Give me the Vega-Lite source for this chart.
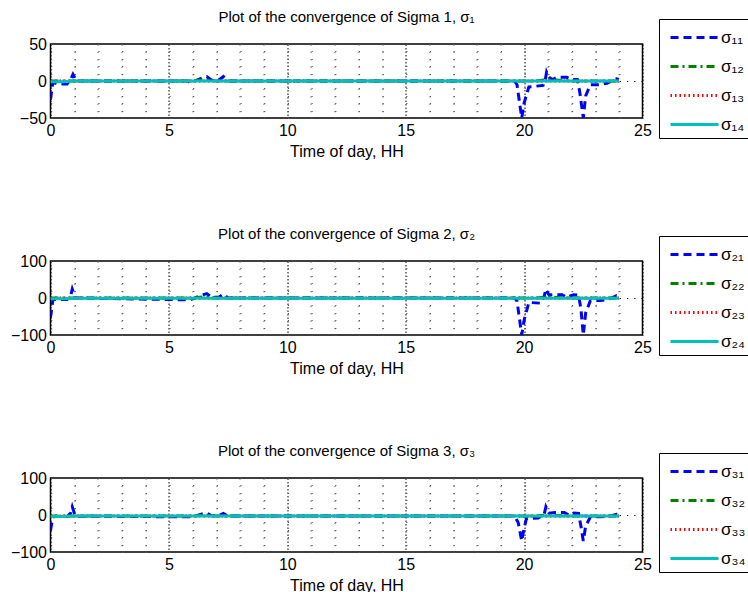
{
  "$schema": "https://vega.github.io/schema/vega-lite/v6.json",
  "padding": {"left": 9.5, "top": 8, "right": 0, "bottom": 0},
  "spacing": 65,
  "datasets": {
    "s1": [
      {"s":"σ₁₁","t":0,"v":-25},{"s":"σ₁₁","t":0.1,"v":-2},{"s":"σ₁₁","t":0.3,"v":-4},{"s":"σ₁₁","t":0.7,"v":-4},{"s":"σ₁₁","t":0.85,"v":2},{"s":"σ₁₁","t":0.95,"v":9},{"s":"σ₁₁","t":1.1,"v":0},{"s":"σ₁₁","t":5.8,"v":0},{"s":"σ₁₁","t":5.9,"v":-2},{"s":"σ₁₁","t":6.1,"v":0},{"s":"σ₁₁","t":6.4,"v":4},{"s":"σ₁₁","t":6.6,"v":6},{"s":"σ₁₁","t":6.8,"v":1},{"s":"σ₁₁","t":7.1,"v":1},{"s":"σ₁₁","t":7.3,"v":6},{"s":"σ₁₁","t":7.5,"v":0},{"s":"σ₁₁","t":19.6,"v":0},{"s":"σ₁₁","t":19.7,"v":-5},{"s":"σ₁₁","t":19.9,"v":-50},{"s":"σ₁₁","t":20.0,"v":-30},{"s":"σ₁₁","t":20.2,"v":-8},{"s":"σ₁₁","t":20.8,"v":-6},{"s":"σ₁₁","t":20.9,"v":3},{"s":"σ₁₁","t":20.95,"v":12},{"s":"σ₁₁","t":21.05,"v":5},{"s":"σ₁₁","t":21.2,"v":2},{"s":"σ₁₁","t":21.4,"v":5},{"s":"σ₁₁","t":21.8,"v":5},{"s":"σ₁₁","t":22.0,"v":2},{"s":"σ₁₁","t":22.25,"v":2},{"s":"σ₁₁","t":22.35,"v":-15},{"s":"σ₁₁","t":22.5,"v":-50},{"s":"σ₁₁","t":22.6,"v":-20},{"s":"σ₁₁","t":22.8,"v":-5},{"s":"σ₁₁","t":23.2,"v":-5},{"s":"σ₁₁","t":23.5,"v":-3},{"s":"σ₁₁","t":23.7,"v":0},{"s":"σ₁₁","t":23.9,"v":3},{"s":"σ₁₁","t":24,"v":2},
      {"s":"σ₁₂","t":0,"v":0},{"s":"σ₁₂","t":6,"v":0},{"s":"σ₁₂","t":6.5,"v":2},{"s":"σ₁₂","t":7,"v":0},{"s":"σ₁₂","t":20.5,"v":0},{"s":"σ₁₂","t":21,"v":2},{"s":"σ₁₂","t":21.5,"v":1},{"s":"σ₁₂","t":22,"v":0},{"s":"σ₁₂","t":24,"v":0},
      {"s":"σ₁₃","t":0,"v":0},{"s":"σ₁₃","t":24,"v":0},
      {"s":"σ₁₄","t":0,"v":-1},{"s":"σ₁₄","t":0.5,"v":-1},{"s":"σ₁₄","t":1,"v":0},{"s":"σ₁₄","t":24,"v":0}
    ],
    "s2": [
      {"s":"σ₂₁","t":0,"v":-53},{"s":"σ₂₁","t":0.1,"v":-5},{"s":"σ₂₁","t":0.3,"v":-4},{"s":"σ₂₁","t":0.7,"v":-4},{"s":"σ₂₁","t":0.85,"v":5},{"s":"σ₂₁","t":0.92,"v":24},{"s":"σ₂₁","t":1.05,"v":0},{"s":"σ₂₁","t":5.9,"v":-5},{"s":"σ₂₁","t":6.1,"v":0},{"s":"σ₂₁","t":6.4,"v":8},{"s":"σ₂₁","t":6.6,"v":12},{"s":"σ₂₁","t":6.8,"v":2},{"s":"σ₂₁","t":7.1,"v":2},{"s":"σ₂₁","t":7.3,"v":10},{"s":"σ₂₁","t":7.5,"v":0},{"s":"σ₂₁","t":19.6,"v":0},{"s":"σ₂₁","t":19.7,"v":-8},{"s":"σ₂₁","t":19.9,"v":-100},{"s":"σ₂₁","t":20.0,"v":-60},{"s":"σ₂₁","t":20.2,"v":-12},{"s":"σ₂₁","t":20.7,"v":-14},{"s":"σ₂₁","t":20.85,"v":5},{"s":"σ₂₁","t":20.92,"v":24},{"s":"σ₂₁","t":21.05,"v":8},{"s":"σ₂₁","t":21.3,"v":9},{"s":"σ₂₁","t":21.6,"v":9},{"s":"σ₂₁","t":21.8,"v":2},{"s":"σ₂₁","t":22.1,"v":9},{"s":"σ₂₁","t":22.3,"v":8},{"s":"σ₂₁","t":22.4,"v":-30},{"s":"σ₂₁","t":22.5,"v":-100},{"s":"σ₂₁","t":22.6,"v":-40},{"s":"σ₂₁","t":22.8,"v":-7},{"s":"σ₂₁","t":23.2,"v":-7},{"s":"σ₂₁","t":23.5,"v":-4},{"s":"σ₂₁","t":23.7,"v":0},{"s":"σ₂₁","t":23.9,"v":6},{"s":"σ₂₁","t":24,"v":3},
      {"s":"σ₂₂","t":0,"v":0},{"s":"σ₂₂","t":6,"v":0},{"s":"σ₂₂","t":6.5,"v":3},{"s":"σ₂₂","t":7,"v":0},{"s":"σ₂₂","t":20.5,"v":0},{"s":"σ₂₂","t":21,"v":3},{"s":"σ₂₂","t":21.5,"v":1},{"s":"σ₂₂","t":22,"v":0},{"s":"σ₂₂","t":24,"v":0},
      {"s":"σ₂₃","t":0,"v":0},{"s":"σ₂₃","t":24,"v":0},
      {"s":"σ₂₄","t":0,"v":-2},{"s":"σ₂₄","t":0.5,"v":-2},{"s":"σ₂₄","t":1,"v":-1},{"s":"σ₂₄","t":24,"v":-1}
    ],
    "s3": [
      {"s":"σ₃₁","t":0,"v":-42},{"s":"σ₃₁","t":0.1,"v":-5},{"s":"σ₃₁","t":0.3,"v":-4},{"s":"σ₃₁","t":0.7,"v":-4},{"s":"σ₃₁","t":0.85,"v":5},{"s":"σ₃₁","t":0.92,"v":22},{"s":"σ₃₁","t":1.05,"v":-3},{"s":"σ₃₁","t":5.9,"v":-5},{"s":"σ₃₁","t":6.1,"v":-3},{"s":"σ₃₁","t":6.4,"v":3},{"s":"σ₃₁","t":6.6,"v":5},{"s":"σ₃₁","t":6.8,"v":-2},{"s":"σ₃₁","t":7.1,"v":-2},{"s":"σ₃₁","t":7.3,"v":4},{"s":"σ₃₁","t":7.5,"v":-3},{"s":"σ₃₁","t":19.6,"v":-3},{"s":"σ₃₁","t":19.75,"v":-20},{"s":"σ₃₁","t":19.9,"v":-70},{"s":"σ₃₁","t":20.0,"v":-35},{"s":"σ₃₁","t":20.1,"v":-10},{"s":"σ₃₁","t":20.6,"v":-8},{"s":"σ₃₁","t":20.85,"v":2},{"s":"σ₃₁","t":20.92,"v":22},{"s":"σ₃₁","t":21.05,"v":5},{"s":"σ₃₁","t":21.3,"v":7},{"s":"σ₃₁","t":21.7,"v":7},{"s":"σ₃₁","t":21.9,"v":-1},{"s":"σ₃₁","t":22.1,"v":5},{"s":"σ₃₁","t":22.3,"v":4},{"s":"σ₃₁","t":22.4,"v":-30},{"s":"σ₃₁","t":22.5,"v":-70},{"s":"σ₃₁","t":22.6,"v":-30},{"s":"σ₃₁","t":22.8,"v":-5},{"s":"σ₃₁","t":23.2,"v":-5},{"s":"σ₃₁","t":23.5,"v":-3},{"s":"σ₃₁","t":23.7,"v":-2},{"s":"σ₃₁","t":23.9,"v":2},{"s":"σ₃₁","t":24,"v":-1},
      {"s":"σ₃₂","t":0,"v":-3},{"s":"σ₃₂","t":6,"v":-3},{"s":"σ₃₂","t":6.5,"v":0},{"s":"σ₃₂","t":7,"v":-3},{"s":"σ₃₂","t":20.5,"v":-3},{"s":"σ₃₂","t":21,"v":0},{"s":"σ₃₂","t":21.5,"v":-2},{"s":"σ₃₂","t":22,"v":-3},{"s":"σ₃₂","t":24,"v":-3},
      {"s":"σ₃₃","t":0,"v":-3},{"s":"σ₃₃","t":24,"v":-3},
      {"s":"σ₃₄","t":0,"v":-4},{"s":"σ₃₄","t":0.5,"v":-4},{"s":"σ₃₄","t":1,"v":-3},{"s":"σ₃₄","t":24,"v":-3}
    ]
  },
  "vconcat": [
    {
      "width": 592, "height": 74,
      "title": {"text": "Plot of the convergence of Sigma 1, σ₁"},
      "data": {"name": "s1"},
      "mark": {"type": "line", "clip": true},
      "encoding": {
        "x": {"field": "t", "type": "quantitative", "title": "Time of day, HH", "scale": {"domain": [0, 25], "nice": false},
          "axis": {"values": [0,1,2,3,4,5,6,7,8,9,10,11,12,13,14,15,16,17,18,19,20,21,22,23,24,25], "labelExpr": "datum.value % 5 === 0 ? datum.label : ''",
            "gridColor": {"condition": {"test": "datum.value % 5 === 0", "value": "#000000"}, "value": "#555555"},
            "gridDash": {"condition": {"test": "datum.value % 5 === 0", "value": [1.5, 2]}, "value": [1.2, 6.2]}}},
        "y": {"field": "v", "type": "quantitative", "title": null, "scale": {"domain": [-50, 50], "nice": false},
          "axis": {"values": [-50,-40,-30,-20,-10,0,10,20,30,40,50], "labelExpr": "datum.value % 50 === 0 ? datum.label : ''",
            "gridColor": {"condition": {"test": "datum.value === 0", "value": "#000000"}, "value": "#555555"},
            "gridDash": {"condition": {"test": "datum.value === 0", "value": [1.2, 6]}, "value": [1.2, 22.48]}}},
        "color": {"field": "s", "type": "nominal", "scale": {"range": ["#0000ff", "#008000", "#ff0000", "#00bfbf"]}, "legend": {"title": null, "orient": "none", "legendX": 608.5, "legendY": -25}},
        "strokeDash": {"field": "s", "type": "nominal", "scale": {"range": [[8, 5], [8, 4, 2, 4], [1.5, 3], [1, 0]]}, "legend": {"title": null, "orient": "none", "legendX": 608.5, "legendY": -25}},
        "strokeWidth": {"field": "s", "type": "nominal", "scale": {"range": [3, 3, 1, 3]}, "legend": {"title": null, "orient": "none", "legendX": 608.5, "legendY": -25}}
      }
    },
    {
      "width": 592, "height": 74,
      "title": {"text": "Plot of the convergence of Sigma 2, σ₂"},
      "data": {"name": "s2"},
      "mark": {"type": "line", "clip": true},
      "encoding": {
        "x": {"field": "t", "type": "quantitative", "title": "Time of day, HH", "scale": {"domain": [0, 25], "nice": false},
          "axis": {"values": [0,1,2,3,4,5,6,7,8,9,10,11,12,13,14,15,16,17,18,19,20,21,22,23,24,25], "labelExpr": "datum.value % 5 === 0 ? datum.label : ''",
            "gridColor": {"condition": {"test": "datum.value % 5 === 0", "value": "#000000"}, "value": "#555555"},
            "gridDash": {"condition": {"test": "datum.value % 5 === 0", "value": [1.5, 2]}, "value": [1.2, 6.2]}}},
        "y": {"field": "v", "type": "quantitative", "title": null, "scale": {"domain": [-100, 100], "nice": false},
          "axis": {"values": [-100,-80,-60,-40,-20,0,20,40,60,80,100], "labelExpr": "datum.value % 100 === 0 ? datum.label : ''",
            "gridColor": {"condition": {"test": "datum.value === 0", "value": "#000000"}, "value": "#555555"},
            "gridDash": {"condition": {"test": "datum.value === 0", "value": [1.2, 6]}, "value": [1.2, 22.48]}}},
        "color": {"field": "s", "type": "nominal", "scale": {"range": ["#0000ff", "#008000", "#ff0000", "#00bfbf"]}, "legend": {"title": null, "orient": "none", "legendX": 608.5, "legendY": -25}},
        "strokeDash": {"field": "s", "type": "nominal", "scale": {"range": [[8, 5], [8, 4, 2, 4], [1.5, 3], [1, 0]]}, "legend": {"title": null, "orient": "none", "legendX": 608.5, "legendY": -25}},
        "strokeWidth": {"field": "s", "type": "nominal", "scale": {"range": [3, 3, 1, 3]}, "legend": {"title": null, "orient": "none", "legendX": 608.5, "legendY": -25}}
      }
    },
    {
      "width": 592, "height": 74,
      "title": {"text": "Plot of the convergence of Sigma 3, σ₃"},
      "data": {"name": "s3"},
      "mark": {"type": "line", "clip": true},
      "encoding": {
        "x": {"field": "t", "type": "quantitative", "title": "Time of day, HH", "scale": {"domain": [0, 25], "nice": false},
          "axis": {"values": [0,1,2,3,4,5,6,7,8,9,10,11,12,13,14,15,16,17,18,19,20,21,22,23,24,25], "labelExpr": "datum.value % 5 === 0 ? datum.label : ''",
            "gridColor": {"condition": {"test": "datum.value % 5 === 0", "value": "#000000"}, "value": "#555555"},
            "gridDash": {"condition": {"test": "datum.value % 5 === 0", "value": [1.5, 2]}, "value": [1.2, 6.2]}}},
        "y": {"field": "v", "type": "quantitative", "title": null, "scale": {"domain": [-100, 100], "nice": false},
          "axis": {"values": [-100,-80,-60,-40,-20,0,20,40,60,80,100], "labelExpr": "datum.value % 100 === 0 ? datum.label : ''",
            "gridColor": {"condition": {"test": "datum.value === 0", "value": "#000000"}, "value": "#555555"},
            "gridDash": {"condition": {"test": "datum.value === 0", "value": [1.2, 6]}, "value": [1.2, 22.48]}}},
        "color": {"field": "s", "type": "nominal", "scale": {"range": ["#0000ff", "#008000", "#ff0000", "#00bfbf"]}, "legend": {"title": null, "orient": "none", "legendX": 608.5, "legendY": -25}},
        "strokeDash": {"field": "s", "type": "nominal", "scale": {"range": [[8, 5], [8, 4, 2, 4], [1.5, 3], [1, 0]]}, "legend": {"title": null, "orient": "none", "legendX": 608.5, "legendY": -25}},
        "strokeWidth": {"field": "s", "type": "nominal", "scale": {"range": [3, 3, 1, 3]}, "legend": {"title": null, "orient": "none", "legendX": 608.5, "legendY": -25}}
      }
    }
  ],
  "resolve": {"scale": {"color": "independent", "strokeDash": "independent", "strokeWidth": "independent", "y": "independent", "x": "independent"}, "legend": {"color": "independent", "strokeDash": "independent", "strokeWidth": "independent"}},
  "config": {
    "font": "Liberation Sans",
    "view": {"stroke": "#000000", "strokeWidth": 1.5},
    "axis": {"domain": false, "ticks": false, "labelPadding": 4, "labelFont": "Liberation Sans", "labelFontSize": 16, "labelColor": "#000000", "labelFlush": false, "labelOverlap": false, "titleFont": "Liberation Sans", "titleFontSize": 16, "titleFontWeight": "normal", "titleColor": "#000000", "titlePadding": 5, "gridWidth": 1, "gridOpacity": 1},
    "title": {"font": "Liberation Sans", "fontSize": 15, "fontWeight": "normal", "color": "#000000", "offset": -6},
    "legend": {"strokeColor": "#000000", "padding": 5, "labelFont": "Liberation Sans", "labelFontSize": 17, "labelColor": "#000000", "symbolType": "M-2,0H2", "symbolSize": 576, "symbolOffset": 17, "rowPadding": 7, "labelOffset": 13}
  }
}
